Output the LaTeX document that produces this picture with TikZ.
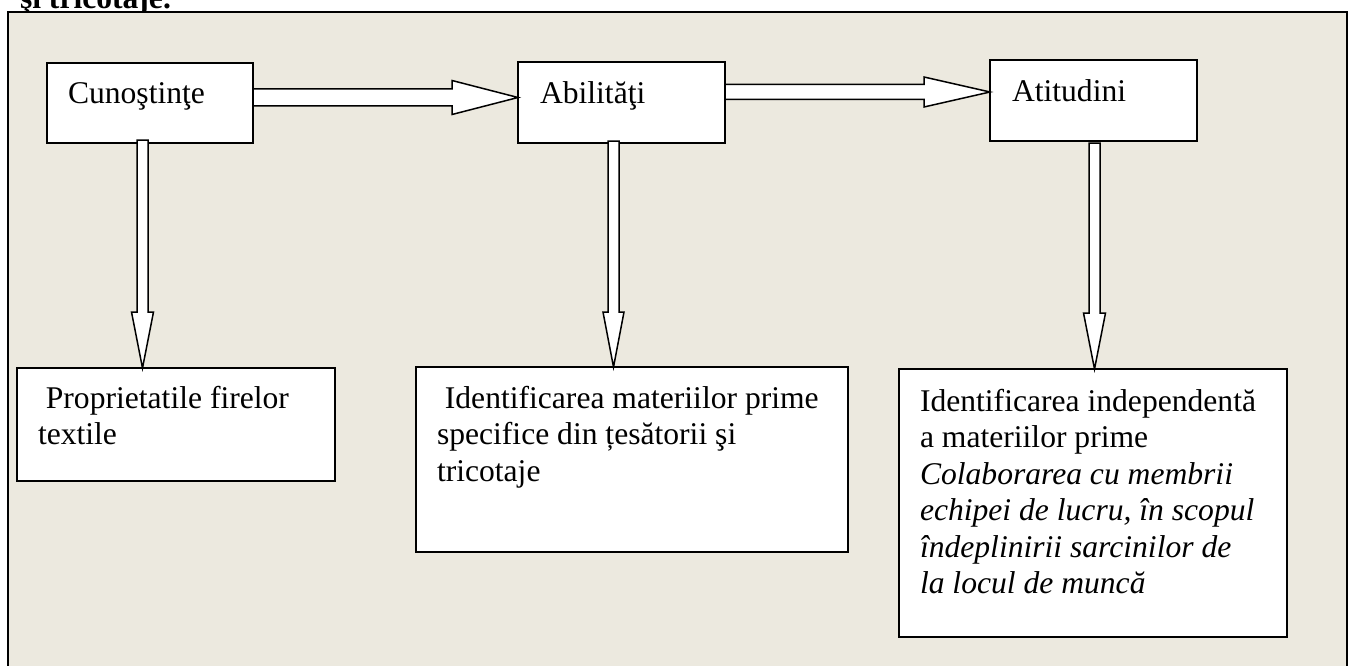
\documentclass[tikz,border=0pt]{standalone}
\usepackage{fontspec}
\setmainfont{Liberation Serif}
\usetikzlibrary{calc}
\definecolor{paper}{RGB}{236,233,223}

% hollow block arrow pointing down: start, tip, shaft half width, head half width, head length
\newcommand{\blockdown}[5]{%
  \draw[blk] ($(#1)+(-#3,0)$) -- ($(#2)+(-#3,-#5)$) -- ($(#2)+(-#4,-#5)$) -- (#2)
    -- ($(#2)+(#4,-#5)$) -- ($(#2)+(#3,-#5)$) -- ($(#1)+(#3,0)$) -- cycle;}
% hollow block arrow pointing right
\newcommand{\blockright}[5]{%
  \draw[blk] ($(#1)+(0,-#3)$) -- ($(#2)+(-#5,-#3)$) -- ($(#2)+(-#5,-#4)$) -- (#2)
    -- ($(#2)+(-#5,#4)$) -- ($(#2)+(-#5,#3)$) -- ($(#1)+(0,#3)$) -- cycle;}

\begin{document}
\begin{tikzpicture}[x=1pt,y=-1pt,
  box/.style={draw=black, line width=1.6pt, fill=white, inner sep=0pt, outer sep=0pt, anchor=north west},
  txt/.style={anchor=base west, inner sep=0pt, outer sep=0pt, font=\fontsize{31.6}{36.5}\selectfont},
  blk/.style={draw=black, line width=1.5pt, fill=white, line join=miter}]
\useasboundingbox (0,0) rectangle (1351,666);
\clip (0,0) rectangle (1351,666);

% end of the preceding heading line
\node[txt, font=\bfseries\fontsize{31.6}{36.5}\selectfont] (head) at (20,8.5) {şi tricotaje.};

% framed panel
\draw[line width=2.2pt, fill=paper] (8,12) rectangle (1347,720);

% top row
\node[box, minimum width=206pt, minimum height=80pt] (c1) at (47,63) {};
\node[box, minimum width=207pt, minimum height=81pt] (a1) at (518,62) {};
\node[box, minimum width=207pt, minimum height=81pt] (t1) at (990,60) {};

% bottom row
\node[box, minimum width=318pt, minimum height=113pt] (p1) at (17,368) {};
\node[box, minimum width=432pt, minimum height=185pt] (i1) at (416,367) {};
\node[box, minimum width=388pt, minimum height=268pt] (i2) at (899,369) {};

% texts
\node[txt] (c1t) at (68,103) {Cunoştinţe};
\node[txt] (a1t) at (540,103) {Abilităţi};
\node[txt] (t1t) at (1012,102) {Atitudini};
\node[txt] (p1t) at (38,408) {\parbox[t]{290pt}{\raggedright\hspace*{7.9pt}Proprietatile firelor\\textile}};
\node[txt] (i1t) at (437,408) {\parbox[t]{410pt}{\raggedright\hspace*{7.9pt}Identificarea materiilor prime\\specifice din țesătorii şi\\tricotaje}};
\node[txt] (i2t) at (920,411) {\parbox[t]{366pt}{\raggedright Identificarea independentă\\a materiilor prime\\\textit{Colaborarea cu membrii}\\\textit{echipei de lucru, în scopul}\\\textit{îndeplinirii sarcinilor de}\\\textit{la locul de muncă}}};

% horizontal connectors
\coordinate (h1s) at ($(c1.north east)+(0,34.5)$);
\coordinate (h1t) at (h1s -| a1.west);
\blockright{h1s}{h1t}{8.5}{17}{66}
\coordinate (h2s) at ($(a1.north east)+(0,30)$);
\coordinate (h2t) at (h2s -| t1.west);
\blockright{h2s}{h2t}{7.5}{15}{66}

% vertical connectors
\coordinate (v1s) at ($(c1.south west)+(95.5,-3)$);
\coordinate (v1t) at (v1s |- p1.north);
\blockdown{v1s}{v1t}{5.5}{11}{56}
\coordinate (v2s) at ($(a1.south west)+(95.5,-2)$);
\coordinate (v2t) at (v2s |- i1.north);
\blockdown{v2s}{v2t}{5.5}{10.5}{55}
\coordinate (v3s) at ($(t1.south west)+(104.5,2)$);
\coordinate (v3t) at (v3s |- i2.north);
\blockdown{v3s}{v3t}{5.5}{11}{56}
\end{tikzpicture}
\end{document}
